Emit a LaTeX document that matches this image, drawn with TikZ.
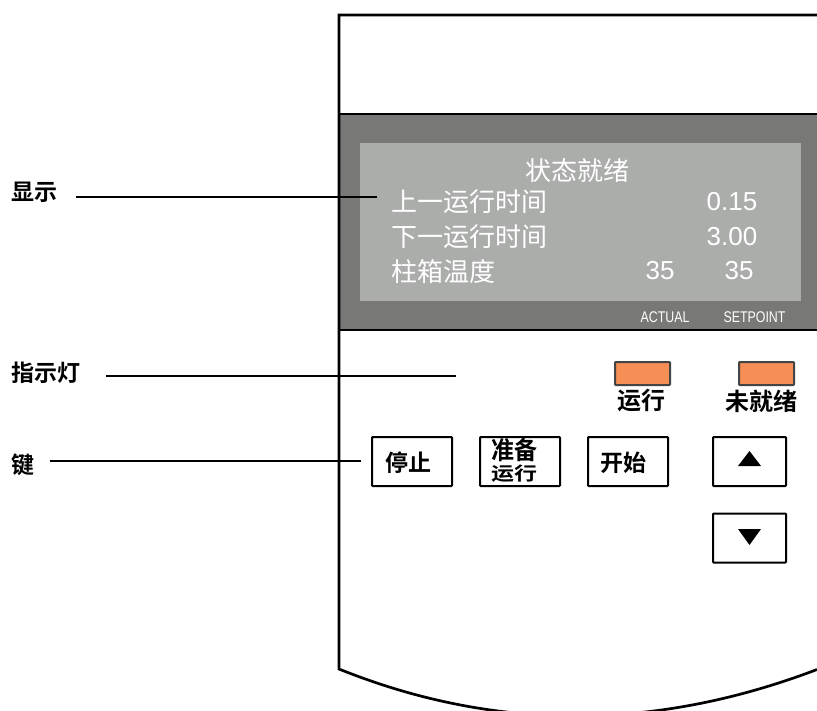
\documentclass[tikz,border=0pt]{standalone}
\usepackage{fontspec}
\setmainfont{Liberation Sans}
\newfontfamily\cjk{Noto Sans CJK SC}
\newfontfamily\cjkb{Noto Sans CJK SC Bold}
\newfontfamily\narrowf[FakeStretch=0.8]{Liberation Sans}
\definecolor{band}{HTML}{787876}
\definecolor{screen}{HTML}{ABADAB}
\definecolor{led}{HTML}{F58F56}
\definecolor{ledline}{HTML}{444444}
\tikzset{
  x=1pt,y=-1pt,
  panelline/.style={draw=black,line width=2.7pt},
  leader/.style={draw=black,line width=1.5pt},
  keybox/.style={draw=black,line width=2pt,fill=white,rounded corners=0.8pt},
  ledbox/.style={draw=ledline,line width=2pt,fill=led,rounded corners=0.8pt},
  lcdcn/.style={inner sep=0pt,text=white,font=\cjk\fontsize{26}{27}\selectfont,anchor=west},
  lcdnum/.style={inner sep=0pt,text=white,font=\fontsize{26}{27}\selectfont},
  tiny label/.style={inner sep=0pt,text=white,font=\narrowf\fontsize{15.5}{16}\selectfont},
  callout/.style={inner sep=0pt,anchor=west,font=\cjkb\fontsize{23}{24}\selectfont},
  ledlabel/.style={inner sep=0pt,font=\cjkb\fontsize{24}{25}\selectfont},
  keylabel/.style={inner sep=0pt,font=\cjkb\fontsize{23}{24}\selectfont},
  tri/.style={fill=black,draw=none},
}
\begin{document}
\begin{tikzpicture}
\useasboundingbox (0,0) rectangle (817,710);
\begin{scope}
\clip (0,0) rectangle (817,710);
\fill[white] (0,0) rectangle (817,710);
% display band
\fill[band] (339,114) rectangle (817,330);
\fill[screen] (360,143) rectangle (801,301);
% panel outline
\draw[panelline] (817,15) -- (339,15) -- (339,669)
  .. controls (498,733) and (658,730) .. (817,669.5);
\draw[panelline] (339,114) -- (817,114);
\draw[panelline] (339,330) -- (817,330);
\end{scope}
% screen text
\node[lcdcn] (status) at (525,171) {状态就绪};
\node[lcdcn] (lastrun) at (391,202) {上一运行时间};
\node[lcdcn] (nextrun) at (391,237) {下一运行时间};
\node[lcdcn] (oven) at (391,272) {柱箱温度};
\node[lcdnum] (v1) at (732,202) {0.15};
\node[lcdnum] (v2) at (732,237) {3.00};
\node[lcdnum] (v3) at (660,271) {35};
\node[lcdnum] (v4) at (739,271) {35};
\node[tiny label] (actual) at (665,317) {ACTUAL};
\node[tiny label] (setpoint) at (754.5,317) {SETPOINT};
% indicators
\node[ledbox,minimum width=55pt,minimum height=23pt,inner sep=0pt] (ledrun) at (642.5,373.5) {};
\node[ledbox,minimum width=55pt,minimum height=23pt,inner sep=0pt] (lednot) at (766.5,373.5) {};
\node[ledlabel] (lblrun) at (641,401) {运行};
\node[ledlabel] (lblnot) at (761,401) {未就绪};
% keys
\node[keybox,minimum width=80pt,minimum height=49pt,inner sep=0pt] (kstop) at (412,461.5) {};
\node[keybox,minimum width=80pt,minimum height=49pt,inner sep=0pt] (kprep) at (520,461.5) {};
\node[keybox,minimum width=80pt,minimum height=49pt,inner sep=0pt] (kstart) at (628,461.5) {};
\node[keybox,minimum width=73pt,minimum height=49pt,inner sep=0pt] (kup) at (749.5,461.5) {};
\node[keybox,minimum width=73pt,minimum height=49pt,inner sep=0pt] (kdown) at (749.5,538) {};
\node[keylabel] (tstop) at (408,463) {停止};
\node[keylabel] (tprep1) at (514.5,450) {\scalebox{1}[1.08]{准备}};
\node[keylabel] (tprep2) at (514.5,473.5) {\scalebox{1}[0.8]{运行}};
\node[keylabel] (tstart) at (623,463) {开始};
\fill[tri] (749.5,451) -- (761,466) -- (738,466) -- cycle;
\fill[tri] (749.5,545) -- (761,529) -- (738,529) -- cycle;
% callouts
\node[callout] (cdisp) at (11,192) {显示};
\node[callout] (cind) at (11,373) {指示灯};
\node[callout] (ckey) at (11,465) {键};
\coordinate (edisp) at (377,197);
\coordinate (eind) at (456,376);
\coordinate (ekey) at (361,461);
\draw[leader] (cdisp.east |- edisp) ++(19,0) -- (edisp);
\draw[leader] (cind.east |- eind) ++(26,0) -- (eind);
\draw[leader] (ckey.east |- ekey) ++(16,0) -- (ekey);
\end{tikzpicture}
\end{document}
